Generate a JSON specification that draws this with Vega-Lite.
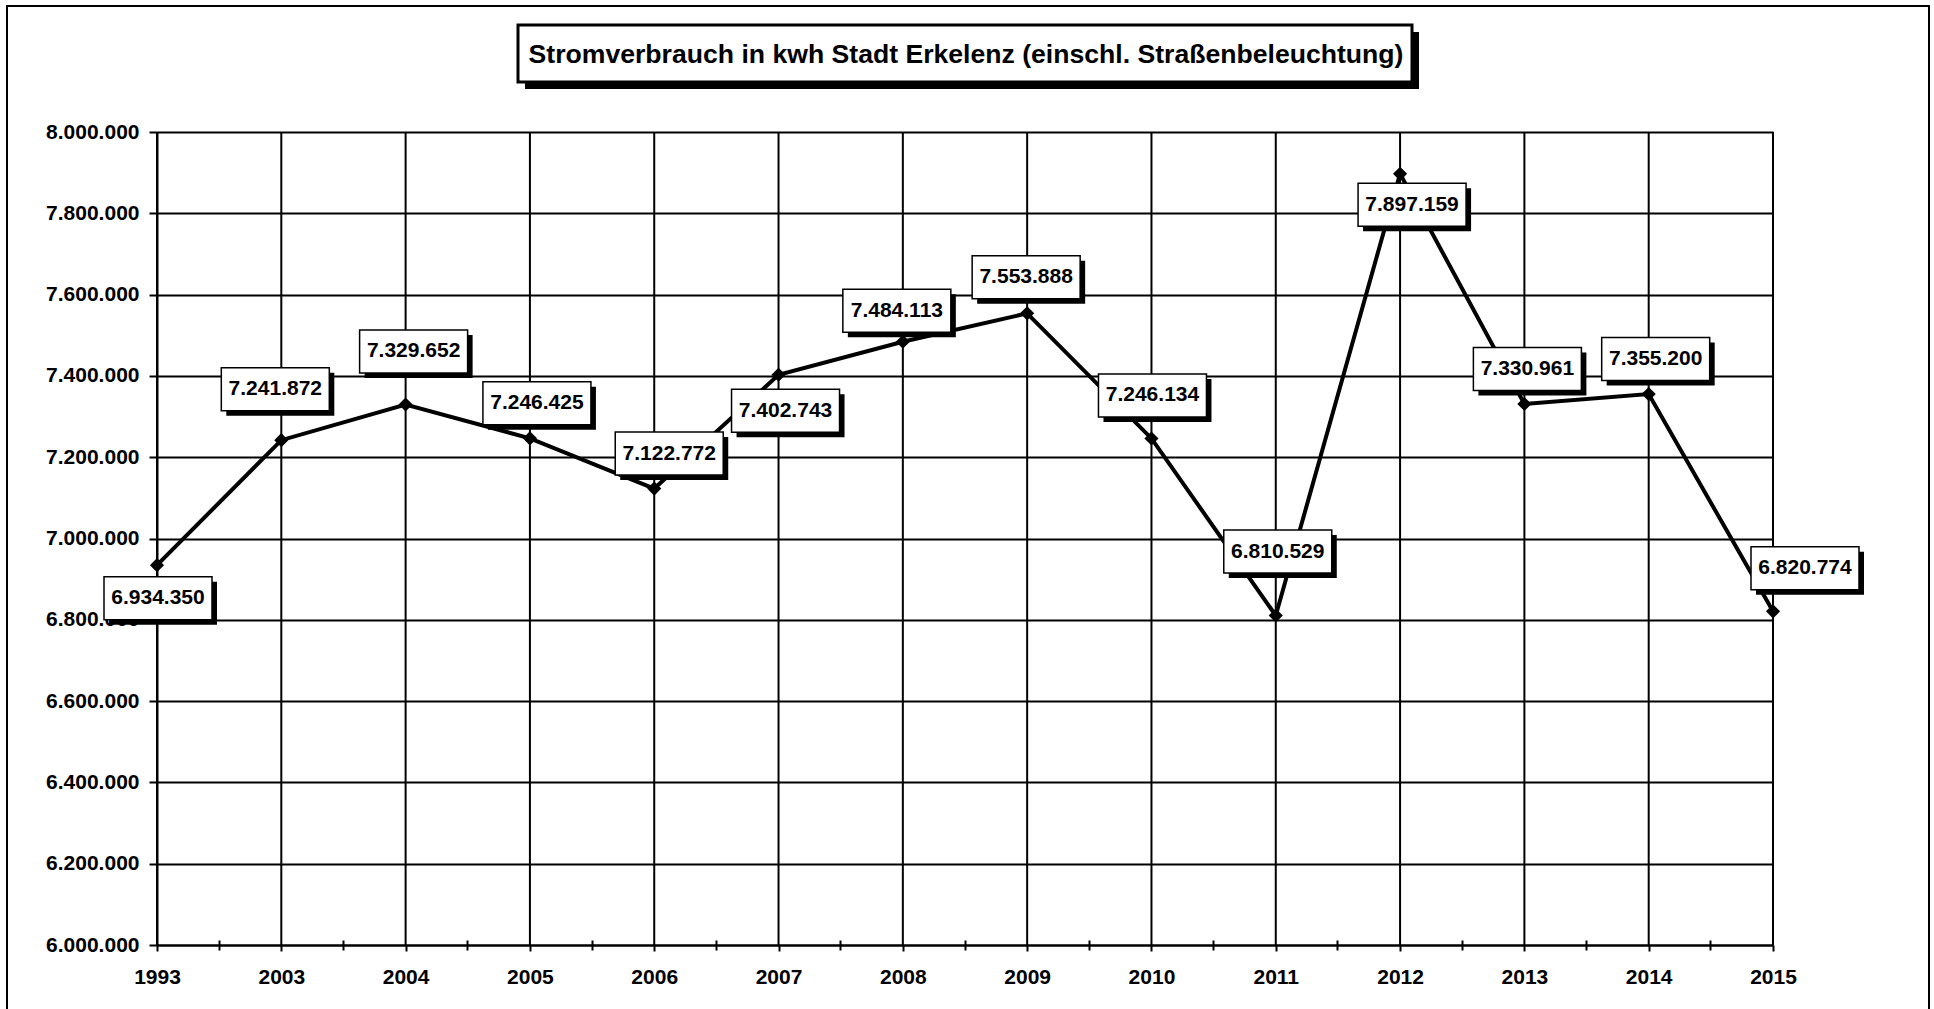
{
  "$schema": "https://vega.github.io/schema/vega-lite/v6.json",
  "autosize": {"type": "none"},
  "width": 1922,
  "height": 1005,
  "padding": {"left": 7, "top": 6, "right": 5, "bottom": -2},
  "background": "white",
  "config": {
    "locale": {"number": {"decimal": ",", "thousands": ".", "grouping": [3], "currency": ["", " €"]}},
    "view": {"stroke": "black", "strokeWidth": 2},
    "axis": {
      "labelFont": "Liberation Sans",
      "labelFontSize": 21,
      "labelFontWeight": "bold",
      "labelColor": "black",
      "domainColor": "black",
      "domainWidth": 2,
      "tickColor": "black",
      "tickWidth": 2,
      "gridColor": "black",
      "gridWidth": 2,
      "gridOpacity": 1,
      "labelOverlap": false
    },
    "text": {"font": "Liberation Sans", "fontSize": 21, "fontWeight": "bold", "color": "black", "align": "center", "baseline": "middle"}
  },
  "data": {
    "values": [
      {"jahr": "1993", "kwh": 6934350},
      {"jahr": "2003", "kwh": 7241872},
      {"jahr": "2004", "kwh": 7329652},
      {"jahr": "2005", "kwh": 7246425},
      {"jahr": "2006", "kwh": 7122772},
      {"jahr": "2007", "kwh": 7402743},
      {"jahr": "2008", "kwh": 7484113},
      {"jahr": "2009", "kwh": 7553888},
      {"jahr": "2010", "kwh": 7246134},
      {"jahr": "2011", "kwh": 6810529},
      {"jahr": "2012", "kwh": 7897159},
      {"jahr": "2013", "kwh": 7330961},
      {"jahr": "2014", "kwh": 7355200},
      {"jahr": "2015", "kwh": 6820774}
    ]
  },
  "layer": [
    {
      "encoding": {
        "x": {
          "field": "jahr",
          "type": "ordinal",
          "scale": {"type": "point", "range": [150, 1766], "padding": 0},
          "axis": {
            "title": null,
            "orient": "bottom",
            "offset": -66,
            "labelAngle": 0,
            "tickSize": 6,
            "labelPadding": 15,
            "grid": false
          }
        },
        "y": {
          "field": "kwh",
          "type": "quantitative",
          "scale": {"domain": [6000000, 8000000], "range": [939, 126], "nice": false, "zero": false},
          "axis": {
            "title": null,
            "orient": "left",
            "offset": -150,
            "values": [6000000, 6200000, 6400000, 6600000, 6800000, 7000000, 7200000, 7400000, 7600000, 7800000, 8000000],
            "format": ",.0f",
            "tickSize": 8,
            "labelPadding": 10,
            "grid": true
          }
        }
      },
      "layer": [
        {
          "mark": {"type": "rule", "color": "black", "strokeWidth": 2},
          "encoding": {"y": {"datum": 6000000, "type": "quantitative"}, "y2": {"datum": 8000000}}
        },
        {"mark": {"type": "line", "color": "black", "strokeWidth": 4}},
        {"mark": {"type": "point", "shape": "diamond", "size": 200, "filled": true, "color": "black", "opacity": 1}},
        {
          "transform": [{"filter": {"field": "jahr", "oneOf": ["1993"]}}],
          "layer": [
            {"mark": {"type": "point", "shape": "M-0.48,0.165H0.6V0.595H-0.48Z", "size": 40000, "filled": true, "color": "black", "strokeWidth": 0, "opacity": 1}},
            {"mark": {"type": "point", "shape": "M-0.53,0.115H0.55V0.545H-0.53Z", "size": 40000, "filled": true, "fill": "white", "stroke": "black", "strokeWidth": 1.5, "opacity": 1}},
            {"mark": {"type": "text", "dx": 1, "dy": 33}, "encoding": {"text": {"field": "kwh", "type": "quantitative", "format": ",.0f"}}}
          ]
        },
        {
          "transform": [{"filter": {"field": "jahr", "oneOf": ["2003"]}}],
          "layer": [
            {"mark": {"type": "point", "shape": "M-0.55,-0.675H0.53V-0.245H-0.55Z", "size": 40000, "filled": true, "color": "black", "strokeWidth": 0, "opacity": 1}},
            {"mark": {"type": "point", "shape": "M-0.6,-0.725H0.48V-0.295H-0.6Z", "size": 40000, "filled": true, "fill": "white", "stroke": "black", "strokeWidth": 1.5, "opacity": 1}},
            {"mark": {"type": "text", "dx": -6, "dy": -51}, "encoding": {"text": {"field": "kwh", "type": "quantitative", "format": ",.0f"}}}
          ]
        },
        {
          "transform": [{"filter": {"field": "jahr", "oneOf": ["2004"]}}],
          "layer": [
            {"mark": {"type": "point", "shape": "M-0.41,-0.695H0.67V-0.265H-0.41Z", "size": 40000, "filled": true, "color": "black", "strokeWidth": 0, "opacity": 1}},
            {"mark": {"type": "point", "shape": "M-0.46,-0.745H0.62V-0.315H-0.46Z", "size": 40000, "filled": true, "fill": "white", "stroke": "black", "strokeWidth": 1.5, "opacity": 1}},
            {"mark": {"type": "text", "dx": 8, "dy": -53}, "encoding": {"text": {"field": "kwh", "type": "quantitative", "format": ",.0f"}}}
          ]
        },
        {
          "transform": [{"filter": {"field": "jahr", "oneOf": ["2005", "2014"]}}],
          "layer": [
            {"mark": {"type": "point", "shape": "M-0.42,-0.515H0.66V-0.085H-0.42Z", "size": 40000, "filled": true, "color": "black", "strokeWidth": 0, "opacity": 1}},
            {"mark": {"type": "point", "shape": "M-0.47,-0.565H0.61V-0.135H-0.47Z", "size": 40000, "filled": true, "fill": "white", "stroke": "black", "strokeWidth": 1.5, "opacity": 1}},
            {"mark": {"type": "text", "dx": 7, "dy": -35}, "encoding": {"text": {"field": "kwh", "type": "quantitative", "format": ",.0f"}}}
          ]
        },
        {
          "transform": [{"filter": {"field": "jahr", "oneOf": ["2006"]}}],
          "layer": [
            {"mark": {"type": "point", "shape": "M-0.34,-0.515H0.74V-0.085H-0.34Z", "size": 40000, "filled": true, "color": "black", "strokeWidth": 0, "opacity": 1}},
            {"mark": {"type": "point", "shape": "M-0.39,-0.565H0.69V-0.135H-0.39Z", "size": 40000, "filled": true, "fill": "white", "stroke": "black", "strokeWidth": 1.5, "opacity": 1}},
            {"mark": {"type": "text", "dx": 15, "dy": -35}, "encoding": {"text": {"field": "kwh", "type": "quantitative", "format": ",.0f"}}}
          ]
        },
        {
          "transform": [{"filter": {"field": "jahr", "oneOf": ["2007"]}}],
          "layer": [
            {"mark": {"type": "point", "shape": "M-0.42,0.195H0.66V0.625H-0.42Z", "size": 40000, "filled": true, "color": "black", "strokeWidth": 0, "opacity": 1}},
            {"mark": {"type": "point", "shape": "M-0.47,0.145H0.61V0.575H-0.47Z", "size": 40000, "filled": true, "fill": "white", "stroke": "black", "strokeWidth": 1.5, "opacity": 1}},
            {"mark": {"type": "text", "dx": 7, "dy": 36}, "encoding": {"text": {"field": "kwh", "type": "quantitative", "format": ",.0f"}}}
          ]
        },
        {
          "transform": [{"filter": {"field": "jahr", "oneOf": ["2008"]}}],
          "layer": [
            {"mark": {"type": "point", "shape": "M-0.55,-0.475H0.53V-0.045H-0.55Z", "size": 40000, "filled": true, "color": "black", "strokeWidth": 0, "opacity": 1}},
            {"mark": {"type": "point", "shape": "M-0.6,-0.525H0.48V-0.095H-0.6Z", "size": 40000, "filled": true, "fill": "white", "stroke": "black", "strokeWidth": 1.5, "opacity": 1}},
            {"mark": {"type": "text", "dx": -6, "dy": -31}, "encoding": {"text": {"field": "kwh", "type": "quantitative", "format": ",.0f"}}}
          ]
        },
        {
          "transform": [{"filter": {"field": "jahr", "oneOf": ["2009"]}}],
          "layer": [
            {"mark": {"type": "point", "shape": "M-0.5,-0.525H0.58V-0.095H-0.5Z", "size": 40000, "filled": true, "color": "black", "strokeWidth": 0, "opacity": 1}},
            {"mark": {"type": "point", "shape": "M-0.55,-0.575H0.53V-0.145H-0.55Z", "size": 40000, "filled": true, "fill": "white", "stroke": "black", "strokeWidth": 1.5, "opacity": 1}},
            {"mark": {"type": "text", "dx": -1, "dy": -36}, "encoding": {"text": {"field": "kwh", "type": "quantitative", "format": ",.0f"}}}
          ]
        },
        {
          "transform": [{"filter": {"field": "jahr", "oneOf": ["2010"]}}],
          "layer": [
            {"mark": {"type": "point", "shape": "M-0.48,-0.595H0.6V-0.165H-0.48Z", "size": 40000, "filled": true, "color": "black", "strokeWidth": 0, "opacity": 1}},
            {"mark": {"type": "point", "shape": "M-0.53,-0.645H0.55V-0.215H-0.53Z", "size": 40000, "filled": true, "fill": "white", "stroke": "black", "strokeWidth": 1.5, "opacity": 1}},
            {"mark": {"type": "text", "dx": 1, "dy": -43}, "encoding": {"text": {"field": "kwh", "type": "quantitative", "format": ",.0f"}}}
          ]
        },
        {
          "transform": [{"filter": {"field": "jahr", "oneOf": ["2011"]}}],
          "layer": [
            {"mark": {"type": "point", "shape": "M-0.47,-0.805H0.61V-0.375H-0.47Z", "size": 40000, "filled": true, "color": "black", "strokeWidth": 0, "opacity": 1}},
            {"mark": {"type": "point", "shape": "M-0.52,-0.855H0.56V-0.425H-0.52Z", "size": 40000, "filled": true, "fill": "white", "stroke": "black", "strokeWidth": 1.5, "opacity": 1}},
            {"mark": {"type": "text", "dx": 2, "dy": -64}, "encoding": {"text": {"field": "kwh", "type": "quantitative", "format": ",.0f"}}}
          ]
        },
        {
          "transform": [{"filter": {"field": "jahr", "oneOf": ["2012"]}}],
          "layer": [
            {"mark": {"type": "point", "shape": "M-0.37,0.145H0.71V0.575H-0.37Z", "size": 40000, "filled": true, "color": "black", "strokeWidth": 0, "opacity": 1}},
            {"mark": {"type": "point", "shape": "M-0.42,0.095H0.66V0.525H-0.42Z", "size": 40000, "filled": true, "fill": "white", "stroke": "black", "strokeWidth": 1.5, "opacity": 1}},
            {"mark": {"type": "text", "dx": 12, "dy": 31}, "encoding": {"text": {"field": "kwh", "type": "quantitative", "format": ",.0f"}}}
          ]
        },
        {
          "transform": [{"filter": {"field": "jahr", "oneOf": ["2013"]}}],
          "layer": [
            {"mark": {"type": "point", "shape": "M-0.46,-0.515H0.62V-0.085H-0.46Z", "size": 40000, "filled": true, "color": "black", "strokeWidth": 0, "opacity": 1}},
            {"mark": {"type": "point", "shape": "M-0.51,-0.565H0.57V-0.135H-0.51Z", "size": 40000, "filled": true, "fill": "white", "stroke": "black", "strokeWidth": 1.5, "opacity": 1}},
            {"mark": {"type": "text", "dx": 3, "dy": -35}, "encoding": {"text": {"field": "kwh", "type": "quantitative", "format": ",.0f"}}}
          ]
        },
        {
          "transform": [{"filter": {"field": "jahr", "oneOf": ["2015"]}}],
          "layer": [
            {"mark": {"type": "point", "shape": "M-0.17,-0.595H0.91V-0.165H-0.17Z", "size": 40000, "filled": true, "color": "black", "strokeWidth": 0, "opacity": 1}},
            {"mark": {"type": "point", "shape": "M-0.22,-0.645H0.86V-0.215H-0.22Z", "size": 40000, "filled": true, "fill": "white", "stroke": "black", "strokeWidth": 1.5, "opacity": 1}},
            {"mark": {"type": "text", "dx": 32, "dy": -43}, "encoding": {"text": {"field": "kwh", "type": "quantitative", "format": ",.0f"}}}
          ]
        }
      ]
    },
    {
      "transform": [{"filter": "datum.jahr != '2015'"}],
      "mark": {"type": "point", "opacity": 0},
      "encoding": {
        "x": {
          "field": "jahr",
          "type": "ordinal",
          "scale": {"type": "band", "range": [150, 1766], "paddingInner": 0, "paddingOuter": 0},
          "axis": {
            "title": null,
            "orient": "bottom",
            "offset": -71,
            "labels": false,
            "domain": false,
            "grid": false,
            "ticks": true,
            "tickSize": 10,
            "bandPosition": 0.5
          }
        },
        "y": {"field": "kwh", "type": "quantitative"}
      }
    },
    {
      "data": {"values": [{"titel": "Stromverbrauch in kwh Stadt Erkelenz (einschl. Straßenbeleuchtung)"}]},
      "encoding": {"y": {"datum": 8000000, "type": "quantitative"}},
      "layer": [
        {"mark": {"type": "point", "shape": "M-4.43,-1.0H4.51V-0.43H-4.43Z", "size": 40000, "filled": true, "color": "black", "strokeWidth": 0, "opacity": 1}},
        {"mark": {"type": "point", "shape": "M-4.5,-1.07H4.44V-0.5H-4.5Z", "size": 40000, "filled": true, "fill": "white", "stroke": "black", "strokeWidth": 3, "opacity": 1}},
        {"mark": {"type": "text", "fontSize": 26.6, "baseline": "alphabetic", "dx": -2, "dy": -69},
         "encoding": {"text": {"field": "titel", "type": "nominal"}}}
      ]
    }
  ],
  "resolve": {"scale": {"x": "independent"}, "axis": {"x": "independent"}}
}
